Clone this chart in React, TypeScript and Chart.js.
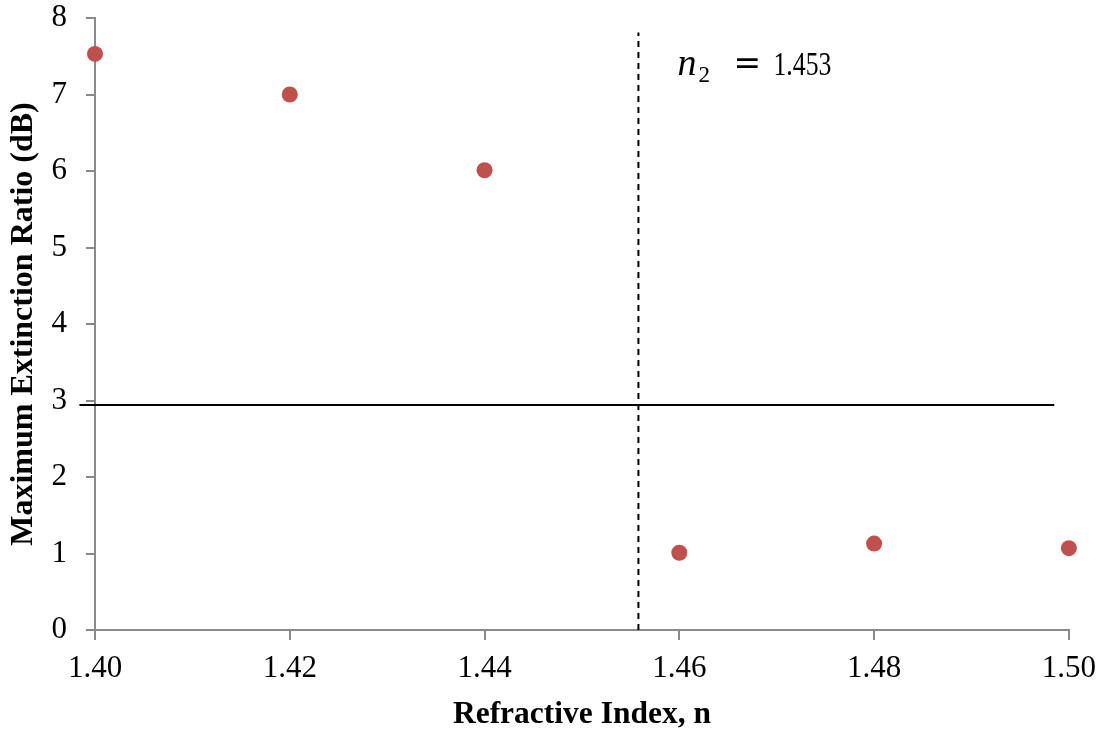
import React, { useEffect, useRef } from "react";
import { Chart, registerables } from "chart.js";

Chart.register(...registerables);

// Data
const refractiveIndex = [1.4, 1.42, 1.44, 1.46, 1.48, 1.5];
const extinctionRatio = [7.53, 7.0, 6.01, 1.01, 1.13, 1.07];

// Reference lines
const thresholdX = [1.3984, 1.4985];
const thresholdY = [2.94, 2.94];
const n2LineX = [1.4558, 1.4558];
const n2LineY = [0, 7.81];
const n2Label = "1.453";

const xTicks = [1.4, 1.42, 1.44, 1.46, 1.48, 1.5];
const yTicks = [0, 1, 2, 3, 4, 5, 6, 7, 8];

const AXIS_GREY = "#8a8a8a";
const SERIF = "'Liberation Serif', 'Times New Roman', serif";

const labelPlugin = {
  id: "n2label",
  afterDatasetsDraw(chart: any) {
    const { ctx, scales } = chart;
    const x0 = scales.x.getPixelForValue(n2LineX[0]);
    const base = scales.y.getPixelForValue(7.25);
    ctx.save();
    ctx.fillStyle = "#000";
    ctx.textBaseline = "alphabetic";
    ctx.textAlign = "left";
    ctx.font = `italic 38px ${SERIF}`;
    ctx.fillText("n", x0 + 39, base);
    ctx.font = `23px ${SERIF}`;
    ctx.fillText("2", x0 + 60, base + 7);
    ctx.font = `33px 'DejaVu Serif', serif`;
    ctx.fillText("=", x0 + 95, base - 1);
    ctx.font = `34px ${SERIF}`;
    ctx.fillText(n2Label, x0 + 135, base, 58);
    ctx.restore();
  },
};

export default function App() {
  const ref = useRef<HTMLCanvasElement | null>(null);
  useEffect(() => {
    if (!ref.current) return;
    const chart = new Chart(ref.current, {
      type: "scatter",
      data: {
        datasets: [
          {
            label: "Threshold",
            data: thresholdX.map((x, i) => ({ x, y: thresholdY[i] })),
            showLine: true,
            borderColor: "#000",
            borderWidth: 2,
            pointRadius: 0,
            clip: false as any,
          },
          {
            label: "n2",
            data: n2LineX.map((x, i) => ({ x, y: n2LineY[i] })),
            showLine: true,
            borderColor: "#000",
            borderWidth: 2,
            borderDash: [6, 5],
            pointRadius: 0,
          },
          {
            label: "Max ER",
            data: refractiveIndex.map((x, i) => ({ x, y: extinctionRatio[i] })),
            backgroundColor: "#C0504D",
            borderWidth: 0,
            pointRadius: 8,
            clip: false as any,
          },
        ],
      },
      options: {
        animation: false,
        responsive: false,
        layout: { padding: { top: 18, right: 37, left: 0, bottom: 0 } },
        plugins: {
          legend: { display: false },
          tooltip: { enabled: false },
        },
        scales: {
          x: {
            type: "linear",
            min: 1.4,
            max: 1.5,
            afterFit: (s: any) => {
              s.height = 108;
            },
            afterBuildTicks: (s: any) => {
              s.ticks = xTicks.map((v) => ({ value: v }));
            },
            ticks: {
              color: "#000",
              font: { family: SERIF, size: 31 },
              padding: 10,
              callback: (v: any) => Number(v).toFixed(2),
              maxRotation: 0,
            },
            grid: {
              drawOnChartArea: false,
              drawTicks: true,
              tickLength: 10,
              color: AXIS_GREY,
              lineWidth: 2,
            },
            border: { color: AXIS_GREY, width: 2 },
            title: {
              display: true,
              text: "Refractive Index, n",
              color: "#000",
              font: { family: SERIF, size: 31.5, weight: "bold" },
              padding: { top: 0, bottom: 4 },
            },
          },
          y: {
            type: "linear",
            min: 0,
            max: 8,
            afterFit: (s: any) => {
              s.width = 95;
              s.paddingTop = 0;
              s.paddingBottom = 0;
            },
            afterBuildTicks: (s: any) => {
              s.ticks = yTicks.map((v) => ({ value: v }));
            },
            ticks: {
              color: "#000",
              font: { family: SERIF, size: 31 },
              padding: 19,
              callback: (v: any) => String(v),
            },
            grid: {
              drawOnChartArea: false,
              drawTicks: true,
              tickLength: 9,
              color: AXIS_GREY,
              lineWidth: 2,
            },
            border: { color: AXIS_GREY, width: 2 },
            title: {
              display: true,
              text: "Maximum Extinction Ratio (dB)",
              color: "#000",
              font: { family: SERIF, size: 32, weight: "bold" },
              padding: { top: 5, bottom: 0 },
            },
          },
        },
      },
      plugins: [labelPlugin],
    });
    return () => chart.destroy();
  }, []);
  return (
    <div style={{ position: "absolute", left: 0, top: 0, width: 1106, height: 738, background: "#fff" }}>
      <canvas ref={ref} width={1106} height={738} />
    </div>
  );
}
